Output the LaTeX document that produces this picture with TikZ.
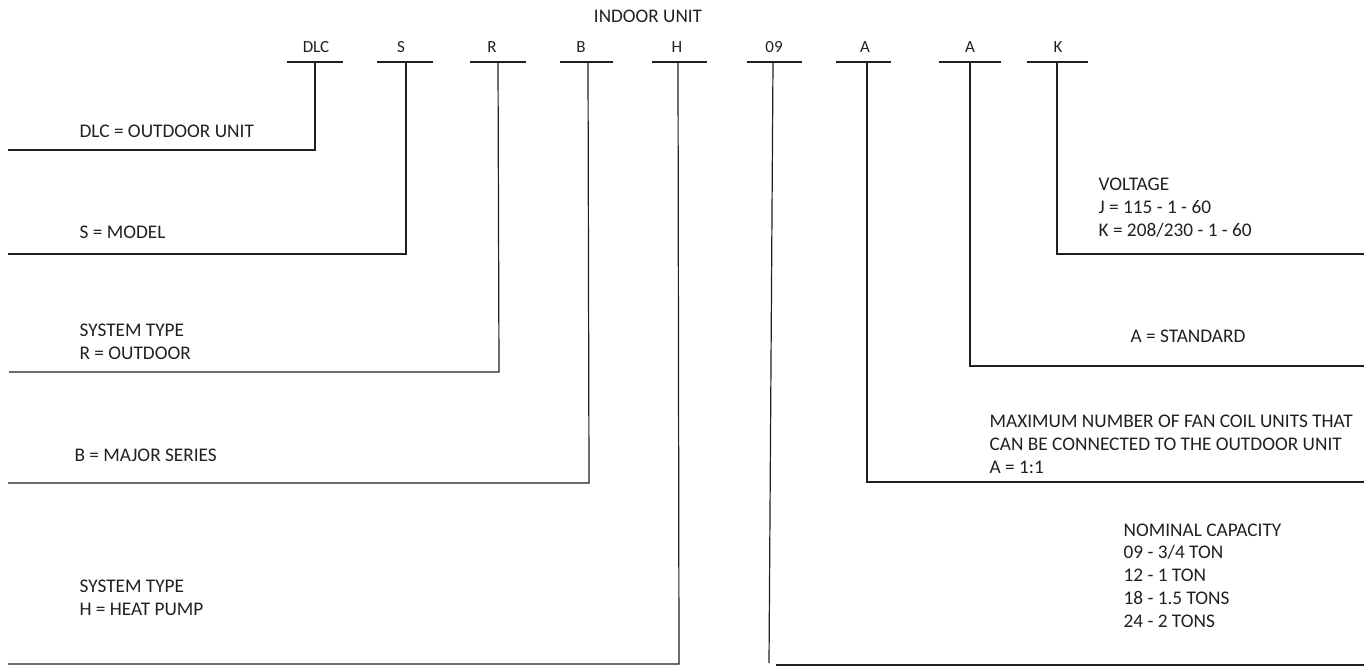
\documentclass[tikz,border=0pt]{standalone}
\usepackage{fontspec}
\setmainfont{Carlito}
\usetikzlibrary{positioning}
\definecolor{ink}{HTML}{231F20}

\begin{document}
\begin{tikzpicture}[x=1pt, y=-1pt, line width=1.2pt, color=ink,
  code/.style={anchor=base, inner sep=0pt, font=\fontsize{17}{20}\selectfont},
  note/.style={anchor=base west, align=left, inner sep=0pt, font=\fontsize{19.3}{22.7}\selectfont}]

\useasboundingbox (0,0) rectangle (1364,666);

% Header
\node (indoor) [code, font=\fontsize{19.2}{22}\selectfont] at (648,23) {INDOOR UNIT};

% Code letters
\node (dlc)  [code] at (316,53)  {DLC};
\node (s)    [code] at (401,53)  {S};
\node (r)    [code] at (492,53)  {R};
\node (b)    [code] at (581,53)  {B};
\node (h)    [code] at (677,53)  {H};
\node (cap)  [code] at (774,53)  {09};
\node (fcu)  [code] at (865,53)  {A};
\node (std)  [code] at (970,53)  {A};
\node (volt) [code] at (1058,53) {K};

% Stem tops, corners and ends
\coordinate (dlc-t) at (315,62);   \coordinate (dlc-c) at (315,150);   \coordinate (dlc-e) at (8,150);
\coordinate (s-t) at (406,62);     \coordinate (s-c) at (406,254);     \coordinate (s-e) at (8,254);
\coordinate (r-t) at (498,62);     \coordinate (r-c) at (499,372);     \coordinate (r-e) at (9,372);
\coordinate (b-t) at (588,62);     \coordinate (b-c) at (589,483);     \coordinate (b-e) at (8,483);
\coordinate (h-t) at (678,62);     \coordinate (h-c) at (679,664);     \coordinate (h-e) at (8,664);
\coordinate (cap-t) at (773,62);   \coordinate (cap-c) at (769,663);
\coordinate (cap-s) at (776,665);  \coordinate (cap-e) at (1364,665);
\coordinate (fcu-t) at (867,62);   \coordinate (fcu-c) at (867,482);   \coordinate (fcu-e) at (1364,482);
\coordinate (std-t) at (970,62);   \coordinate (std-c) at (970,366);   \coordinate (std-e) at (1364,366);
\coordinate (volt-t) at (1057,62); \coordinate (volt-c) at (1057,254); \coordinate (volt-e) at (1364,254);

% Bars under the letters
\draw ([xshift=-28pt]dlc-t) -- ([xshift=28pt]dlc-t);
\draw ([xshift=-29pt]s-t) -- ([xshift=27pt]s-t);
\draw ([xshift=-28pt]r-t) -- ([xshift=28pt]r-t);
\draw ([xshift=-28pt]b-t) -- ([xshift=25pt]b-t);
\draw ([xshift=-26pt]h-t) -- ([xshift=29pt]h-t);
\draw ([xshift=-26pt]cap-t) -- ([xshift=29pt]cap-t);
\draw ([xshift=-31pt]fcu-t) -- ([xshift=24pt]fcu-t);
\draw ([xshift=-31pt]std-t) -- ([xshift=31pt]std-t);
\draw ([xshift=-30pt]volt-t) -- ([xshift=31pt]volt-t);

% Leaders
\draw (dlc-t) -- (dlc-c) -- (dlc-e);
\draw (s-t) -- (s-c) -- (s-e);
\draw (r-t) -- (r-c) -- (r-e);
\draw (b-t) -- (b-c) -- (b-e);
\draw (h-t) -- (h-c) -- (h-e);
\draw (cap-t) -- (cap-c);
\draw (cap-s) -- (cap-e);
\draw (fcu-t) -- (fcu-c) -- (fcu-e);
\draw (std-t) -- (std-c) -- (std-e);
\draw (volt-t) -- (volt-c) -- (volt-e);

% Meanings, left side (multi-line nodes sit on their last line)
\node (dlc-txt) [note] at (79,137) {DLC = OUTDOOR UNIT};
\node (s-txt)   [note] at (79,238) {S = MODEL};
\node (r-txt)   [note] at (79,359) {SYSTEM TYPE\\R = OUTDOOR};
\node (b-txt)   [note] at (74,461) {B = MAJOR SERIES};
\node (h-txt)   [note] at (79,615) {SYSTEM TYPE\\H = HEAT PUMP};

% Meanings, right side
\node (volt-txt) [note] at (1098,236) {VOLTAGE\\J = 115 - 1 - 60\\K = 208/230 - 1 - 60};
\node (std-txt)  [note] at (1130,342) {A = STANDARD};
\node (fcu-txt)  [note] at (989,473)  {MAXIMUM NUMBER OF FAN COIL UNITS THAT\\CAN BE CONNECTED TO THE OUTDOOR UNIT\\A = 1:1};
\node (cap-txt)  [note] at (1123,627) {NOMINAL CAPACITY\\09 - 3/4 TON\\12 - 1 TON\\18 - 1.5 TONS\\24 - 2 TONS};

\end{tikzpicture}
\end{document}
